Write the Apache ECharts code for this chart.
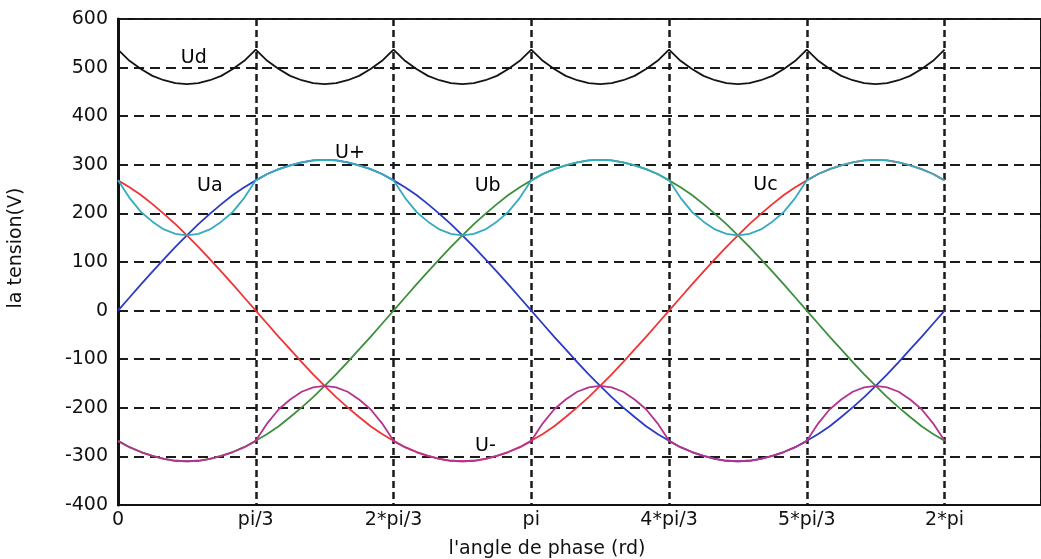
<!DOCTYPE html>
<html>
<head>
<meta charset="utf-8">
<script src="https://cdn.jsdelivr.net/npm/echarts@6/dist/echarts.min.js"></script>
<style>
html,body{margin:0;padding:0;background:#ffffff;}
#chart{width:1041px;height:559px;}
</style>
</head>
<body>
<div id="chart"></div>
<script>
// phase angle samples (degrees)
const angles = [0,5,10,15,20,25,30,35,40,45,50,55,60,65,70,75,80,85,90,95,100,105,110,115,120,125,130,135,140,145,150,155,160,165,170,175,180,185,190,195,200,205,210,215,220,225,230,235,240,245,250,255,260,265,270,275,280,285,290,295,300,305,310,315,320,325,330,335,340,345,350,355,360];

const xTickLabels = ['0','pi/3','2*pi/3','pi','4*pi/3','5*pi/3','2*pi'];

// Ua (blue)
const ua = [0,27,54,80,106,131,155,178,199,219,238,254,268,281,291,299,305,309,310,
 309,305,299,291,281,268,254,238,219,199,178,155,131,106,80,54,27,0,
 -27,-54,-80,-106,-131,-155,-178,-199,-219,-238,-254,-268,-281,-291,-299,-305,-309,-310,
 -309,-305,-299,-291,-281,-268,-254,-238,-219,-199,-178,-155,-131,-106,-80,-54,-27,0];

// Ub (green)
const ub = [-268,-281,-291,-299,-305,-309,-310,-309,-305,-299,-291,-281,-268,-254,-238,-219,-199,-178,-155,-131,-106,-80,-54,-27,0,
 27,54,80,106,131,155,178,199,219,238,254,268,281,291,299,305,309,310,
 309,305,299,291,281,268,254,238,219,199,178,155,131,106,80,54,27,0,
 -27,-54,-80,-106,-131,-155,-178,-199,-219,-238,-254,-268];

// Uc (red)
const uc = [268,254,238,219,199,178,155,131,106,80,54,27,0,
 -27,-54,-80,-106,-131,-155,-178,-199,-219,-238,-254,-268,-281,-291,-299,-305,-309,-310,
 -309,-305,-299,-291,-281,-268,-254,-238,-219,-199,-178,-155,-131,-106,-80,-54,-27,0,
 27,54,80,106,131,155,178,199,219,238,254,268,281,291,299,305,309,310,
 309,305,299,291,281,268];

// U+ (cyan)
const uPlus = [268,232,203,183,167,158,155,158,167,183,203,232,268,
 281,291,299,305,309,310,309,305,299,291,281,268,
 232,203,183,167,158,155,158,167,183,203,232,268,
 281,291,299,305,309,310,309,305,299,291,281,268,
 232,203,183,167,158,155,158,167,183,203,232,268,
 281,291,299,305,309,310,309,305,299,291,281,268];

// U- (magenta)
const uMinus = [-268,-281,-291,-299,-305,-309,-310,-309,-305,-299,-291,-281,-268,
 -232,-203,-183,-167,-158,-155,-158,-167,-183,-203,-232,-268,
 -281,-291,-299,-305,-309,-310,-309,-305,-299,-291,-281,-268,
 -232,-203,-183,-167,-158,-155,-158,-167,-183,-203,-232,-268,
 -281,-291,-299,-305,-309,-310,-309,-305,-299,-291,-281,-268,
 -232,-203,-183,-167,-158,-155,-158,-167,-183,-203,-232,-268];

// Ud (black)
const ud = [537,514,497,483,474,468,466,468,474,483,497,514,
 537,514,497,483,474,468,466,468,474,483,497,514,
 537,514,497,483,474,468,466,468,474,483,497,514,
 537,514,497,483,474,468,466,468,474,483,497,514,
 537,514,497,483,474,468,466,468,474,483,497,514,
 537,514,497,483,474,468,466,468,474,483,497,514,
 537];

// curve annotations [angle, value, text]
const annotations = [[33,520,'Ud'],[40,256,'Ua'],[101,324,'U+'],[161,256,'Ub'],[282,258,'Uc'],[160,-279,'U-']];

const pair = arr => angles.map((a, i) => [a, arr[i]]);
const FONT = 'DejaVu Sans';

const chart = echarts.init(document.getElementById('chart'), null, {renderer: 'canvas'});

function line(name, arr, color, z) {
  return {
    name: name, type: 'line', data: pair(arr), showSymbol: false, symbol: 'none',
    smooth: false, z: z, animation: false,
    lineStyle: {color: color, width: 1.8}
  };
}

chart.setOption({
  animation: false,
  backgroundColor: '#ffffff',
  grid: {left: 118, top: 19, width: 929, height: 486, show: true, borderColor: '#111', borderWidth: 2, backgroundColor: 'transparent'},
  xAxis: {
    type: 'value', min: 0, max: 402, interval: 60,
    axisLine: {show: true, onZero: false, lineStyle: {color: '#111', width: 2}},
    axisTick: {show: false},
    axisLabel: {
      color: '#111', fontFamily: FONT, fontSize: 19, margin: 6, showMaxLabel: false,
      formatter: v => (v % 60 === 0 && v <= 360) ? xTickLabels[v / 60] : ''
    },
    splitLine: {show: true, lineStyle: {color: '#1a1a1a', width: 2.5, type: [7, 4]}}
  },
  yAxis: {
    type: 'value', min: -400, max: 600, interval: 100,
    axisLine: {show: true, onZero: false, lineStyle: {color: '#111', width: 3}},
    axisTick: {show: false},
    axisLabel: {color: '#111', fontFamily: FONT, fontSize: 19, margin: 10},
    splitLine: {show: true, lineStyle: {color: '#1a1a1a', width: 2, type: [10, 6]}}
  },
  graphic: [
    {type: 'text', z: 10, position: [547, 549],
     style: {text: "l'angle de phase (rd)", fontFamily: FONT, fontSize: 19, fill: '#111', textAlign: 'center', textVerticalAlign: 'middle'}},
    {type: 'text', z: 10, rotation: Math.PI / 2, position: [16, 248],
     style: {text: 'la tension(V)', fontFamily: FONT, fontSize: 19, fill: '#111', textAlign: 'center', textVerticalAlign: 'middle'}}
  ],
  series: [
    line('Ua', ua, '#2b3bc4', 2),
    line('Uc', uc, '#ee3434', 2),
    line('Ub', ub, '#3d8f3d', 2),
    line('U+', uPlus, '#36abc0', 3),
    line('U-', uMinus, '#b5338e', 3),
    line('Ud', ud, '#141414', 3),
    {
      type: 'scatter', symbolSize: 0, z: 5, animation: false, silent: true,
      itemStyle: {opacity: 1},
      data: annotations.map(a => ({name: a[2], value: [a[0], a[1]]})),
      label: {show: true, position: 'inside', formatter: p => p.name, color: '#000', opacity: 1, fontFamily: FONT, fontSize: 19}
    }
  ]
});
</script>
</body>
</html>
